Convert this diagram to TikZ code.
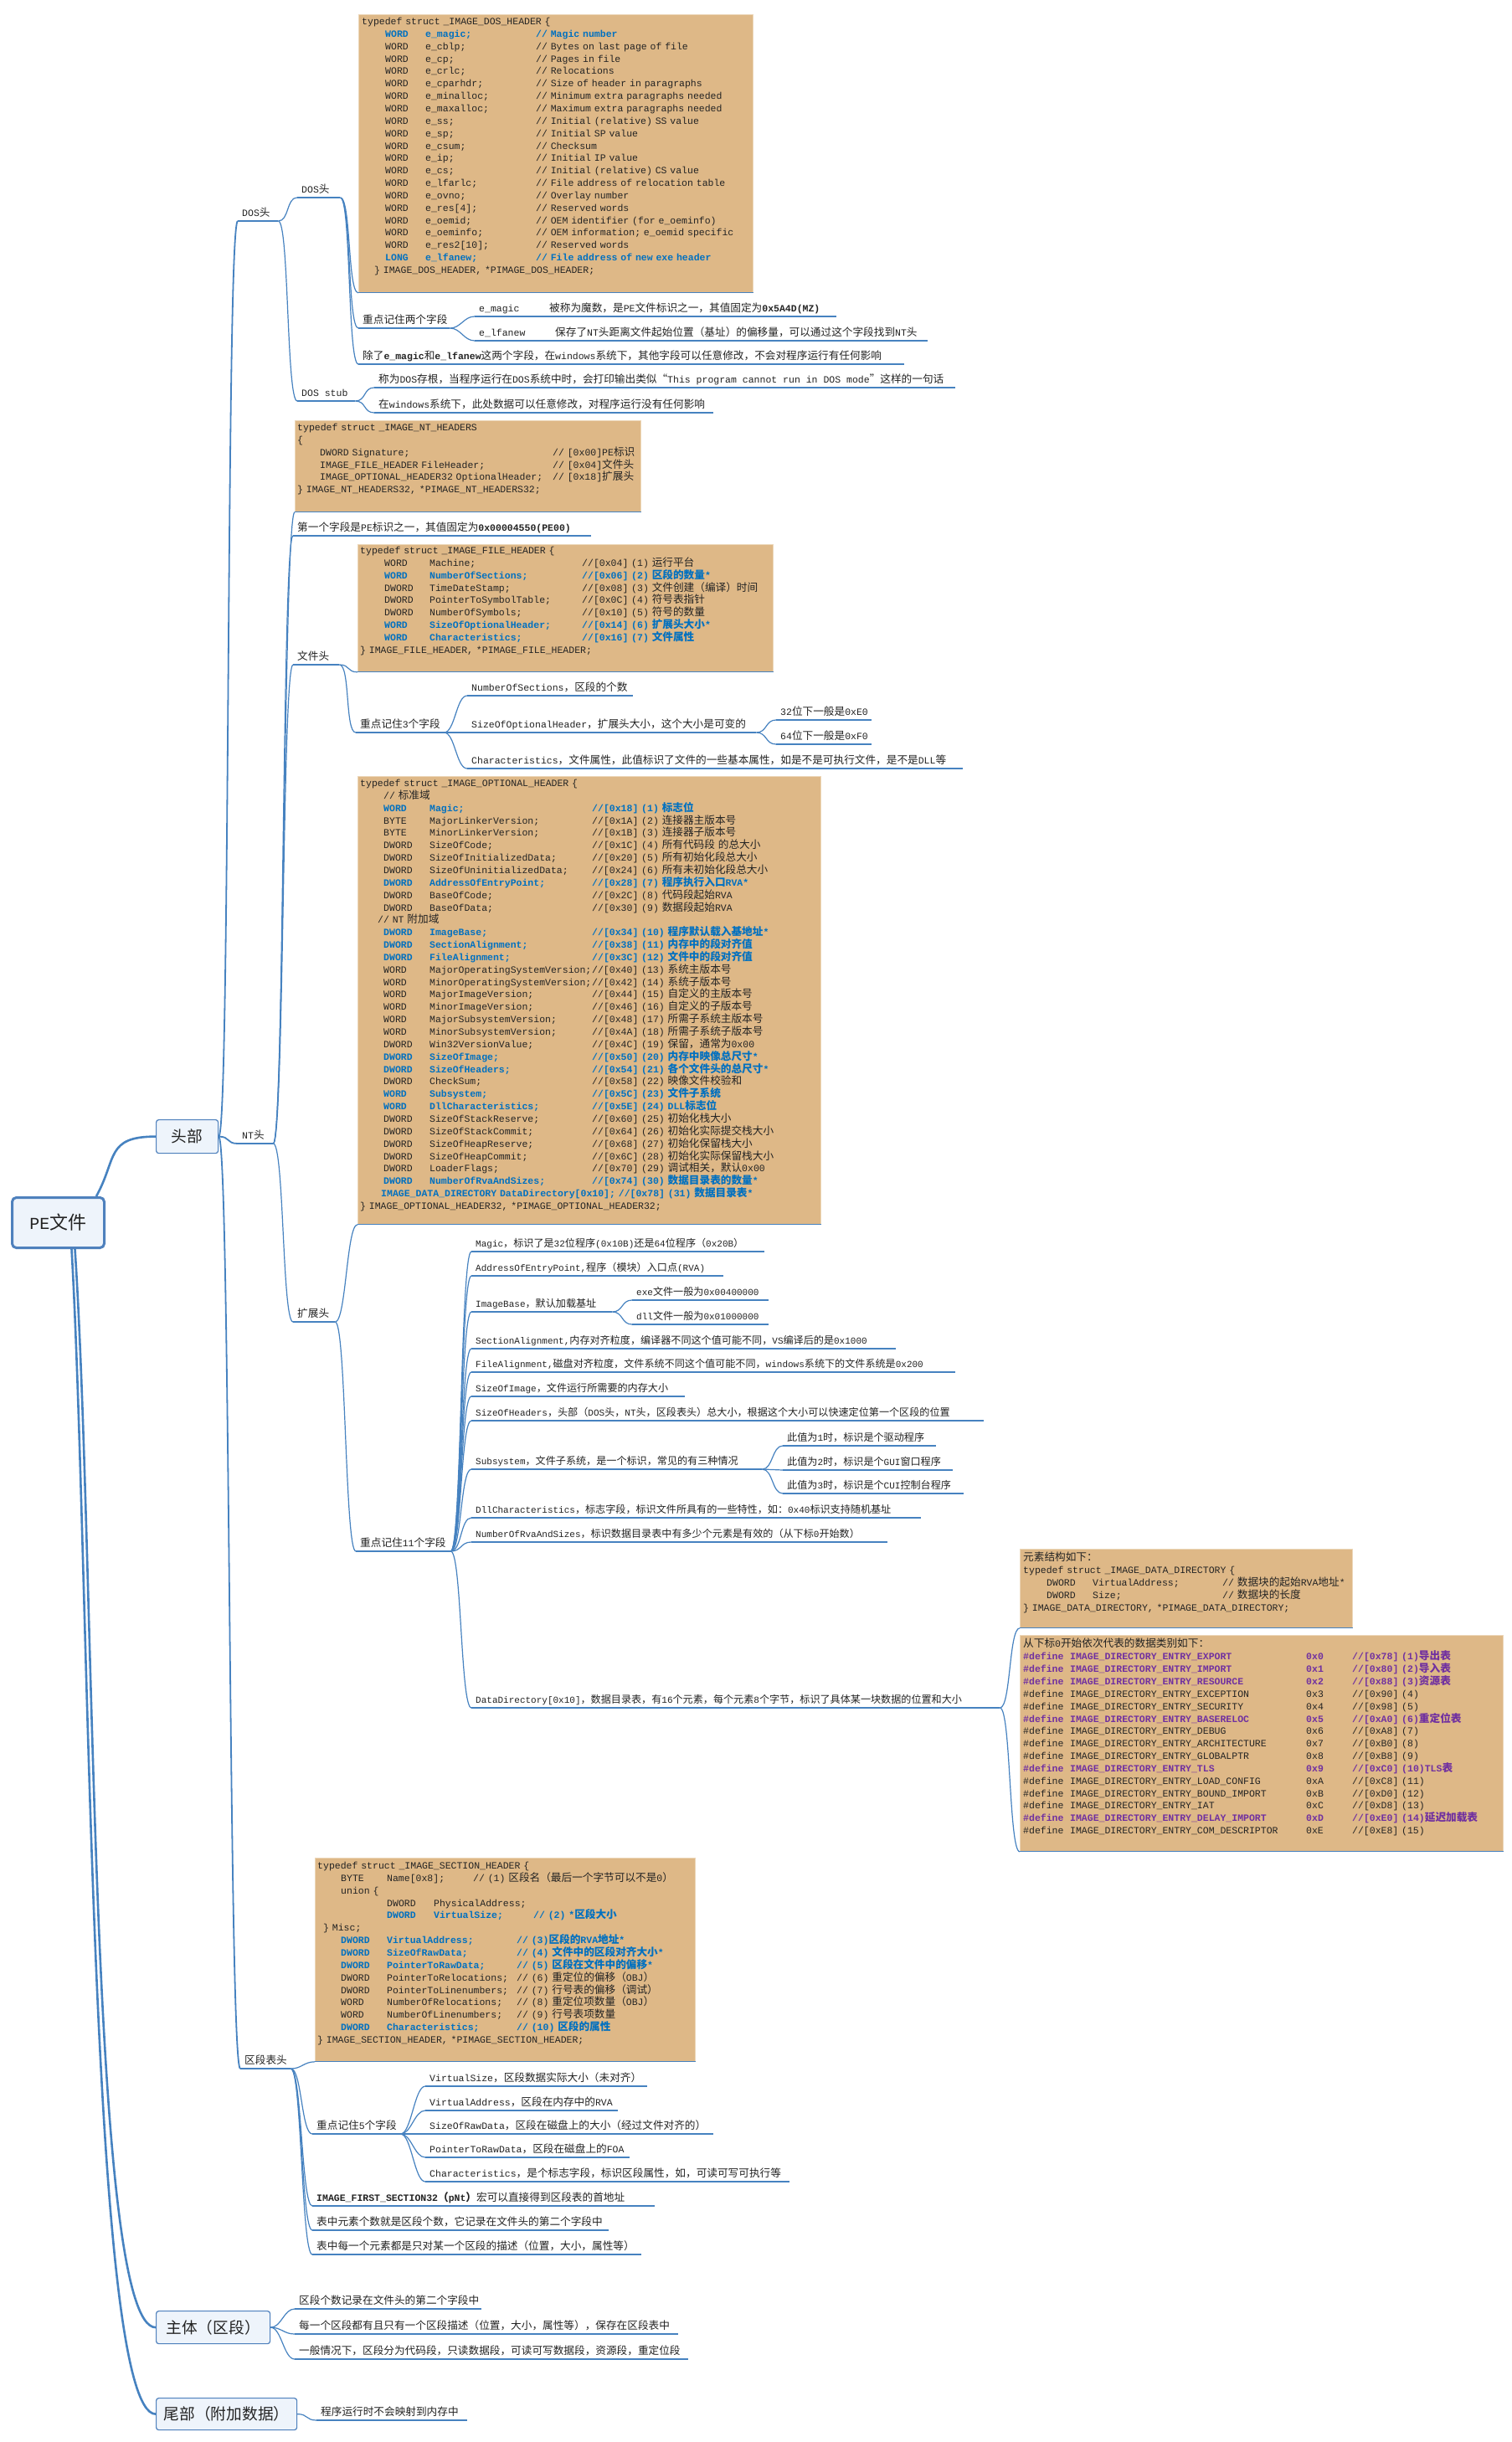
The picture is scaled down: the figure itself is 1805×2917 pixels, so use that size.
\documentclass[tikz,border=0pt]{standalone}
\usepackage{fontspec}
\setmainfont{Liberation Mono}
\newfontfamily\cjk[Scale=1.1]{Noto Sans CJK SC}
\XeTeXinterchartokenstate=1
\newXeTeXintercharclass\CJKcls
\newcount\cjkcnt
\newcommand\setcjkrange[2]{\cjkcnt=#1\relax\loop\XeTeXcharclass\cjkcnt=\CJKcls\relax\ifnum\cjkcnt<#2\relax\advance\cjkcnt by 1\relax\repeat}
\setcjkrange{"3000}{"303F}
\setcjkrange{"4E00}{"9FFF}
\setcjkrange{"FF00}{"FFEF}
\XeTeXcharclass"201C=\CJKcls
\XeTeXcharclass"201D=\CJKcls
\XeTeXinterchartoks 0 \CJKcls = {\begingroup\cjk}
\XeTeXinterchartoks 4095 \CJKcls = {\begingroup\cjk}
\XeTeXinterchartoks \CJKcls 0 = {\endgroup}
\XeTeXinterchartoks \CJKcls 4095 = {\endgroup}

\definecolor{lnblue}{RGB}{70,130,192}
\definecolor{codeblue}{RGB}{0,112,192}
\definecolor{codepurple}{RGB}{112,48,160}
\definecolor{boxtan}{RGB}{222,184,135}
\definecolor{boxedge}{RGB}{236,215,185}
\definecolor{mainfill}{RGB}{238,244,251}
\definecolor{mainline}{RGB}{79,129,189}
\definecolor{txt}{RGB}{35,35,35}

\newcommand\codefont{\fontsize{11.5pt}{14.85pt}\selectfont\lineskiplimit=-50pt\lineskip=0pt}
\newcommand\smallcode{\fontsize{11pt}{14pt}\selectfont}
\newcommand\bigfont{\fontsize{17pt}{20pt}\selectfont}
\newcommand\hugefont{\fontsize{20pt}{24pt}\selectfont}
\newlength\colA \newlength\colB \newlength\colC
\newcommand\fl[3]{\hspace*{\colA}\makebox[\colB][l]{#1}\makebox[\colC][l]{#2}#3}
\newcommand\dl[3]{\makebox[56pt][l]{\#define}\makebox[282pt][l]{#1}\makebox[55pt][l]{#2}#3}
\newcommand\hb[1]{{\bfseries\color{codeblue}#1}}
\newcommand\hp[1]{{\bfseries\color{codepurple}#1}}

\tikzset{
 codetxt/.style={anchor=north west, inner sep=0pt, text width=#1, align=left, font=\codefont, text=txt},
 tanbox/.style={anchor=north west, inner sep=0pt, fill=boxtan, draw=boxedge, line width=0.8pt},
 lblst/.style={anchor=south west, inner xsep=0pt, inner ysep=2pt, font=\codefont, text=txt},
 cn/.style={draw=lnblue, line width=1.2pt},
 cnb/.style={draw=lnblue, line width=1.8pt},
 cnm/.style={draw=lnblue, line width=2.6pt},
 mainbox/.style={anchor=north west, fill=mainfill, draw=mainline, line width=1.2pt, rounded corners=3pt, inner sep=0pt, font=\bigfont, text=txt},
}
\newcommand\lbl[6][]{%
 \node[lblst,#1] (#2) at (#3,#4) {\makebox[\dimexpr#5pt-#3pt\relax][l]{\hspace{5pt}\rule[-3pt]{0pt}{11pt}#6}};
 \draw[cn] (#2.south west) -- (#2.south east);}
\newcommand\conn[3][13]{\draw[cn] (#2) .. controls +(#1,0) and +(-#1,0) .. (#3);}

\begin{document}
\begin{tikzpicture}[x=1pt,y=-1pt]
\fill[white] (0,0) rectangle (1805,2917);
\useasboundingbox (0,0) rectangle (1805,2917);

% ---------- main boxes
\node[mainbox, minimum width=110pt, minimum height=60pt, line width=3pt, rounded corners=5pt, font=\hugefont] (pe) at (13,1429) {PE文件};
\node[mainbox, minimum width=74pt, minimum height=40pt] (head) at (186,1337) {头部};
\node[mainbox, minimum width=136pt, minimum height=39pt] (body) at (186,2760) {主体（区段）};
\node[mainbox, minimum width=168pt, minimum height=38pt] (tail) at (186,2864) {尾部（附加数据）};

\draw[cnm] ([xshift=-11pt]pe.north east) .. controls +(25,-45) and +(-60,0) .. (head.west);
\draw[cnm] ([xshift=20pt]pe.south) .. controls +(25,380) and +(-80,0) .. (body.west);
\draw[cnm] ([xshift=16pt]pe.south) .. controls +(22,380) and +(-80,0) .. (tail.west);

% ---------- DOS part
\lbl{dosA}{284}{264}{332}{DOS头}
\lbl{dosB}{355}{236}{406}{DOS头}
\lbl{stub}{355}{479}{424}{DOS stub}

\node[tanbox, minimum width=471pt, minimum height=332pt] (dosbox) at (428,17) {};
\node[codetxt=465pt] (dostxt) at (432,21) {\setlength\colA{28pt}\setlength\colB{48pt}\setlength\colC{132pt}%
typedef struct \_IMAGE\_DOS\_HEADER \{\\
\hb{\fl{WORD}{e\_magic;}{// Magic number}}\\
\fl{WORD}{e\_cblp;}{// Bytes on last page of file}\\
\fl{WORD}{e\_cp;}{// Pages in file}\\
\fl{WORD}{e\_crlc;}{// Relocations}\\
\fl{WORD}{e\_cparhdr;}{// Size of header in paragraphs}\\
\fl{WORD}{e\_minalloc;}{// Minimum extra paragraphs needed}\\
\fl{WORD}{e\_maxalloc;}{// Maximum extra paragraphs needed}\\
\fl{WORD}{e\_ss;}{// Initial (relative) SS value}\\
\fl{WORD}{e\_sp;}{// Initial SP value}\\
\fl{WORD}{e\_csum;}{// Checksum}\\
\fl{WORD}{e\_ip;}{// Initial IP value}\\
\fl{WORD}{e\_cs;}{// Initial (relative) CS value}\\
\fl{WORD}{e\_lfarlc;}{// File address of relocation table}\\
\fl{WORD}{e\_ovno;}{// Overlay number}\\
\fl{WORD}{e\_res[4];}{// Reserved words}\\
\fl{WORD}{e\_oemid;}{// OEM identifier (for e\_oeminfo)}\\
\fl{WORD}{e\_oeminfo;}{// OEM information; e\_oemid specific}\\
\fl{WORD}{e\_res2[10];}{// Reserved words}\\
\hb{\fl{LONG}{e\_lfanew;}{// File address of new exe header}}\\
\hspace*{15pt}\} IMAGE\_DOS\_HEADER, *PIMAGE\_DOS\_HEADER;};
\draw[cn] (dosbox.south west) -- (dosbox.south east);

\lbl{keytwo}{428}{392}{537}{重点记住两个字段}
\lbl{emagic}{567}{378}{999}{\makebox[84pt][l]{e\_magic}被称为魔数，是PE文件标识之一，其值固定为\textbf{0x5A4D(MZ)}}
\lbl{elfanew}{567}{407}{1108}{\makebox[91pt][l]{e\_lfanew}保存了NT头距离文件起始位置（基址）的偏移量，可以通过这个字段找到NT头}
\lbl{chule}{428}{435}{1080}{除了\textbf{e\_magic}和\textbf{e\_lfanew}这两个字段，在windows系统下，其他字段可以任意修改，不会对程序运行有任何影响}
\lbl{stubone}{447}{463}{1141}{称为DOS存根，当程序运行在DOS系统中时，会打印输出类似“This program cannot run in DOS mode”这样的一句话}
\lbl{stubtwo}{447}{493}{852}{在windows系统下，此处数据可以任意修改，对程序运行没有任何影响}

% ---------- NT part
\lbl{ntA}{284}{1366}{326}{NT头}
\node[tanbox, minimum width=413pt, minimum height=109pt] (ntbox) at (352,502) {};
\node[codetxt=408pt] (nttxt) at (355,506) {%
typedef struct \_IMAGE\_NT\_HEADERS\\
\{\\
\hspace*{27pt}\makebox[278pt][l]{DWORD Signature;}// [0x00]PE标识\\
\hspace*{27pt}\makebox[278pt][l]{IMAGE\_FILE\_HEADER FileHeader;}// [0x04]文件头\\
\hspace*{27pt}\makebox[278pt][l]{IMAGE\_OPTIONAL\_HEADER32 OptionalHeader;}// [0x18]扩展头\\
\} IMAGE\_NT\_HEADERS32, *PIMAGE\_NT\_HEADERS32;};
\draw[cn] (ntbox.south west) -- (ntbox.south east);
\lbl{firstf}{350}{640}{706}{第一个字段是PE标识之一，其值固定为\textbf{0x00004550(PE00)}}

\lbl{fileA}{350}{794}{405}{文件头}
\node[tanbox, minimum width=496pt, minimum height=152pt] (filebox) at (427,650) {};
\node[codetxt=490pt] (filetxt) at (430,653) {\setlength\colA{29pt}\setlength\colB{54pt}\setlength\colC{182pt}%
typedef struct \_IMAGE\_FILE\_HEADER \{\\
\fl{WORD}{Machine;}{//[0x04] (1) 运行平台}\\
\hb{\fl{WORD}{NumberOfSections;}{//[0x06] (2) 区段的数量*}}\\
\fl{DWORD}{TimeDateStamp;}{//[0x08] (3) 文件创建（编译）时间}\\
\fl{DWORD}{PointerToSymbolTable;}{//[0x0C] (4) 符号表指针}\\
\fl{DWORD}{NumberOfSymbols;}{//[0x10] (5) 符号的数量}\\
\hb{\fl{WORD}{SizeOfOptionalHeader;}{//[0x14] (6) 扩展头大小*}}\\
\hb{\fl{WORD}{Characteristics;}{//[0x16] (7) 文件属性}}\\
\} IMAGE\_FILE\_HEADER, *PIMAGE\_FILE\_HEADER;};
\draw[cn] (filebox.south west) -- (filebox.south east);
\lbl{keythree}{425}{875}{530}{重点记住3个字段}
\lbl{nos}{558}{831}{756}{NumberOfSections，区段的个数}
\lbl{sooh}{558}{875}{903}{SizeOfOptionalHeader，扩展头大小，这个大小是可变的}
\lbl{bthirtytwo}{927}{860}{1041}{32位下一般是0xE0}
\lbl{bsixtyfour}{927}{889}{1041}{64位下一般是0xF0}
\lbl{chr}{558}{918}{1150}{Characteristics，文件属性，此值标识了文件的一些基本属性，如是不是可执行文件，是不是DLL等}

\lbl{optA}{350}{1579}{400}{扩展头}
\node[tanbox, minimum width=553pt, minimum height=535pt] (optbox) at (427,927) {};
\node[codetxt=548pt] (opttxt) at (430,931) {\setlength\colA{28pt}\setlength\colB{55pt}\setlength\colC{194pt}%
typedef struct \_IMAGE\_OPTIONAL\_HEADER \{\\
\hspace*{28pt}// 标准域\\
\hb{\fl{WORD}{Magic;}{//[0x18] (1) 标志位}}\\
\fl{BYTE}{MajorLinkerVersion;}{//[0x1A] (2) 连接器主版本号}\\
\fl{BYTE}{MinorLinkerVersion;}{//[0x1B] (3) 连接器子版本号}\\
\fl{DWORD}{SizeOfCode;}{//[0x1C] (4) 所有代码段 的总大小}\\
\fl{DWORD}{SizeOfInitializedData;}{//[0x20] (5) 所有初始化段总大小}\\
\fl{DWORD}{SizeOfUninitializedData;}{//[0x24] (6) 所有未初始化段总大小}\\
\hb{\fl{DWORD}{AddressOfEntryPoint;}{//[0x28] (7) 程序执行入口RVA*}}\\
\fl{DWORD}{BaseOfCode;}{//[0x2C] (8) 代码段起始RVA}\\
\fl{DWORD}{BaseOfData;}{//[0x30] (9) 数据段起始RVA}\\
\hspace*{21pt}// NT 附加域\\
\hb{\fl{DWORD}{ImageBase;}{//[0x34] (10) 程序默认载入基地址*}}\\
\hb{\fl{DWORD}{SectionAlignment;}{//[0x38] (11) 内存中的段对齐值}}\\
\hb{\fl{DWORD}{FileAlignment;}{//[0x3C] (12) 文件中的段对齐值}}\\
\fl{WORD}{MajorOperatingSystemVersion;}{//[0x40] (13) 系统主版本号}\\
\fl{WORD}{MinorOperatingSystemVersion;}{//[0x42] (14) 系统子版本号}\\
\fl{WORD}{MajorImageVersion;}{//[0x44] (15) 自定义的主版本号}\\
\fl{WORD}{MinorImageVersion;}{//[0x46] (16) 自定义的子版本号}\\
\fl{WORD}{MajorSubsystemVersion;}{//[0x48] (17) 所需子系统主版本号}\\
\fl{WORD}{MinorSubsystemVersion;}{//[0x4A] (18) 所需子系统子版本号}\\
\fl{DWORD}{Win32VersionValue;}{//[0x4C] (19) 保留，通常为0x00}\\
\hb{\fl{DWORD}{SizeOfImage;}{//[0x50] (20) 内存中映像总尺寸*}}\\
\hb{\fl{DWORD}{SizeOfHeaders;}{//[0x54] (21) 各个文件头的总尺寸*}}\\
\fl{DWORD}{CheckSum;}{//[0x58] (22) 映像文件校验和}\\
\hb{\fl{WORD}{Subsystem;}{//[0x5C] (23) 文件子系统}}\\
\hb{\fl{WORD}{DllCharacteristics;}{//[0x5E] (24) DLL标志位}}\\
\fl{DWORD}{SizeOfStackReserve;}{//[0x60] (25) 初始化栈大小}\\
\fl{DWORD}{SizeOfStackCommit;}{//[0x64] (26) 初始化实际提交栈大小}\\
\fl{DWORD}{SizeOfHeapReserve;}{//[0x68] (27) 初始化保留栈大小}\\
\fl{DWORD}{SizeOfHeapCommit;}{//[0x6C] (28) 初始化实际保留栈大小}\\
\fl{DWORD}{LoaderFlags;}{//[0x70] (29) 调试相关，默认0x00}\\
\hb{\fl{DWORD}{NumberOfRvaAndSizes;}{//[0x74] (30) 数据目录表的数量*}}\\
\hb{\hspace*{25pt}IMAGE\_DATA\_DIRECTORY DataDirectory[0x10]; //[0x78] (31) 数据目录表*}\\
\} IMAGE\_OPTIONAL\_HEADER32, *PIMAGE\_OPTIONAL\_HEADER32;};
\draw[cn] (optbox.south west) -- (optbox.south east);

\lbl{keyeleven}{425}{1853}{538}{重点记住11个字段}
\lbl[font=\smallcode]{fa}{563}{1495}{913}{Magic，标识了是32位程序(0x10B)还是64位程序（0x20B）}
\lbl[font=\smallcode]{fb}{563}{1524}{864}{AddressOfEntryPoint,程序（模块）入口点(RVA)}
\lbl[font=\smallcode]{fc}{563}{1567}{731}{ImageBase，默认加载基址}
\lbl[font=\smallcode]{exe}{755}{1553}{918}{exe文件一般为0x00400000}
\lbl[font=\smallcode]{dll}{755}{1582}{918}{dll文件一般为0x01000000}
\lbl[font=\smallcode]{fd}{563}{1611}{1070}{SectionAlignment,内存对齐粒度，编译器不同这个值可能不同，VS编译后的是0x1000}
\lbl[font=\smallcode]{fe}{563}{1639}{1141}{FileAlignment,磁盘对齐粒度，文件系统不同这个值可能不同，windows系统下的文件系统是0x200}
\lbl[font=\smallcode]{ff}{563}{1668}{818}{SizeOfImage，文件运行所需要的内存大小}
\lbl[font=\smallcode]{fg}{563}{1697}{1175}{SizeOfHeaders，头部（DOS头，NT头，区段表头）总大小，根据这个大小可以快速定位第一个区段的位置}
\lbl[font=\smallcode]{fh}{563}{1755}{910}{Subsystem，文件子系统，是一个标识，常见的有三种情况}
\lbl[font=\smallcode]{sa}{935}{1727}{1118}{此值为1时，标识是个驱动程序}
\lbl[font=\smallcode]{sb}{935}{1756}{1138}{此值为2时，标识是个GUI窗口程序}
\lbl[font=\smallcode]{sc}{935}{1784}{1151}{此值为3时，标识是个CUI控制台程序}
\lbl[font=\smallcode]{fi}{563}{1813}{1100}{DllCharacteristics，标志字段，标识文件所具有的一些特性，如：0x40标识支持随机基址}
\lbl[font=\smallcode]{fj}{563}{1842}{1060}{NumberOfRvaAndSizes，标识数据目录表中有多少个元素是有效的（从下标0开始数）}
\lbl[font=\smallcode]{fk}{563}{2040}{1194}{DataDirectory[0x10]，数据目录表，有16个元素，每个元素8个字节，标识了具体某一块数据的位置和大小}

\node[tanbox, minimum width=397pt, minimum height=94pt] (ddbox) at (1218,1850) {};
\node[codetxt=392pt] (ddtxt) at (1222,1854) {\setlength\colA{28pt}\setlength\colB{55pt}\setlength\colC{155pt}%
元素结构如下：\\
typedef struct \_IMAGE\_DATA\_DIRECTORY \{\\
\fl{DWORD}{VirtualAddress;}{// 数据块的起始RVA地址*}\\
\fl{DWORD}{Size;}{// 数据块的长度}\\
\} IMAGE\_DATA\_DIRECTORY, *PIMAGE\_DATA\_DIRECTORY;};
\draw[cn] (ddbox.south west) -- (ddbox.south east);

\node[tanbox, minimum width=577pt, minimum height=258pt] (typesbox) at (1218,1953) {};
\node[codetxt=572pt] (typestxt) at (1222,1957) {%
从下标0开始依次代表的数据类别如下：\\
\hp{\dl{IMAGE\_DIRECTORY\_ENTRY\_EXPORT}{0x0}{//[0x78] (1)导出表}}\\
\hp{\dl{IMAGE\_DIRECTORY\_ENTRY\_IMPORT}{0x1}{//[0x80] (2)导入表}}\\
\hp{\dl{IMAGE\_DIRECTORY\_ENTRY\_RESOURCE}{0x2}{//[0x88] (3)资源表}}\\
\dl{IMAGE\_DIRECTORY\_ENTRY\_EXCEPTION}{0x3}{//[0x90] (4)}\\
\dl{IMAGE\_DIRECTORY\_ENTRY\_SECURITY}{0x4}{//[0x98] (5)}\\
\hp{\dl{IMAGE\_DIRECTORY\_ENTRY\_BASERELOC}{0x5}{//[0xA0] (6)重定位表}}\\
\dl{IMAGE\_DIRECTORY\_ENTRY\_DEBUG}{0x6}{//[0xA8] (7)}\\
\dl{IMAGE\_DIRECTORY\_ENTRY\_ARCHITECTURE}{0x7}{//[0xB0] (8)}\\
\dl{IMAGE\_DIRECTORY\_ENTRY\_GLOBALPTR}{0x8}{//[0xB8] (9)}\\
\hp{\dl{IMAGE\_DIRECTORY\_ENTRY\_TLS}{0x9}{//[0xC0] (10)TLS表}}\\
\dl{IMAGE\_DIRECTORY\_ENTRY\_LOAD\_CONFIG}{0xA}{//[0xC8] (11)}\\
\dl{IMAGE\_DIRECTORY\_ENTRY\_BOUND\_IMPORT}{0xB}{//[0xD0] (12)}\\
\dl{IMAGE\_DIRECTORY\_ENTRY\_IAT}{0xC}{//[0xD8] (13)}\\
\hp{\dl{IMAGE\_DIRECTORY\_ENTRY\_DELAY\_IMPORT}{0xD}{//[0xE0] (14)延迟加载表}}\\
\dl{IMAGE\_DIRECTORY\_ENTRY\_COM\_DESCRIPTOR}{0xE}{//[0xE8] (15)}};
\draw[cn] (typesbox.south west) -- (typesbox.south east);

% ---------- section header part
\lbl{secA}{287}{2471}{347}{区段表头}
\node[tanbox, minimum width=454pt, minimum height=243pt] (secbox) at (376,2219) {};
\node[codetxt=450pt] (sectxt) at (379,2224) {\setlength\colA{28pt}\setlength\colB{55pt}\setlength\colC{155pt}%
typedef struct \_IMAGE\_SECTION\_HEADER \{\\
\hspace*{28pt}\makebox[55pt][l]{BYTE}\makebox[103pt][l]{Name[0x8];}// (1) 区段名（最后一个字节可以不是0）\\
\hspace*{28pt}union \{\\
\hspace*{83pt}\makebox[56pt][l]{DWORD}PhysicalAddress;\\
\hb{\hspace*{83pt}\makebox[56pt][l]{DWORD}\makebox[119pt][l]{VirtualSize;}// (2) *区段大小}\\
\hspace*{7pt}\} Misc;\\
\hb{\fl{DWORD}{VirtualAddress;}{// (3)区段的RVA地址*}}\\
\hb{\fl{DWORD}{SizeOfRawData;}{// (4) 文件中的区段对齐大小*}}\\
\hb{\fl{DWORD}{PointerToRawData;}{// (5) 区段在文件中的偏移*}}\\
\fl{DWORD}{PointerToRelocations;}{// (6) 重定位的偏移（OBJ）}\\
\fl{DWORD}{PointerToLinenumbers;}{// (7) 行号表的偏移（调试）}\\
\fl{WORD}{NumberOfRelocations;}{// (8) 重定位项数量（OBJ）}\\
\fl{WORD}{NumberOfLinenumbers;}{// (9) 行号表项数量}\\
\hb{\fl{DWORD}{Characteristics;}{// (10) 区段的属性}}\\
\} IMAGE\_SECTION\_HEADER, *PIMAGE\_SECTION\_HEADER;};
\draw[cn] (secbox.south west) -- (secbox.south east);

\lbl{keyfive}{373}{2549}{478}{重点记住5个字段}
\lbl{va}{508}{2492}{773}{VirtualSize，区段数据实际大小（未对齐）}
\lbl{vb}{508}{2521}{738}{VirtualAddress，区段在内存中的RVA}
\lbl{vc}{508}{2549}{852}{SizeOfRawData，区段在磁盘上的大小（经过文件对齐的）}
\lbl{vd}{508}{2577}{752}{PointerToRawData，区段在磁盘上的FOA}
\lbl{ve}{508}{2606}{943}{Characteristics，是个标志字段，标识区段属性，如，可读可写可执行等}
\lbl{ifs}{373}{2635}{782}{\textbf{IMAGE\_FIRST\_SECTION32（pNt）}宏可以直接得到区段表的首地址}
\lbl{cnt}{373}{2664}{727}{表中元素个数就是区段个数，它记录在文件头的第二个字段中}
\lbl{each}{373}{2693}{766}{表中每一个元素都是只对某一个区段的描述（位置，大小，属性等）}

% ---------- body / tail
\lbl{ba}{352}{2758}{575}{区段个数记录在文件头的第二个字段中}
\lbl{bb}{352}{2788}{810}{每一个区段都有且只有一个区段描述（位置，大小，属性等），保存在区段表中}
\lbl{bc}{352}{2818}{822}{一般情况下，区段分为代码段，只读数据段，可读可写数据段，资源段，重定位段}
\lbl{ta}{378}{2891}{558}{程序运行时不会映射到内存中}

% ---------- connectors
\draw[cnb] (head.east) .. controls +(14,0) and +(-14,0) .. (dosA.south west);
\draw[cnb] (head.east) .. controls +(14,0) and +(-14,0) .. (ntA.south west);
\draw[cnb] (head.east) .. controls +(14,0) and +(-14,0) .. (secA.south west);
\conn{dosA.south east}{dosB.south west}
\conn{dosA.south east}{stub.south west}
\conn{dosB.south east}{dosbox.south west}
\conn{dosB.south east}{keytwo.south west}
\conn{dosB.south east}{chule.south west}
\conn{keytwo.south east}{emagic.south west}
\conn{keytwo.south east}{elfanew.south west}
\conn{stub.south east}{stubone.south west}
\conn{stub.south east}{stubtwo.south west}
\conn{ntA.south east}{ntbox.south west}
\conn{ntA.south east}{firstf.south west}
\conn{ntA.south east}{fileA.south west}
\conn{ntA.south east}{optA.south west}
\conn{fileA.south east}{filebox.south west}
\conn{fileA.south east}{keythree.south west}
\conn{keythree.south east}{nos.south west}
\conn{keythree.south east}{sooh.south west}
\conn{keythree.south east}{chr.south west}
\conn{sooh.south east}{bthirtytwo.south west}
\conn{sooh.south east}{bsixtyfour.south west}
\conn{optA.south east}{optbox.south west}
\conn{optA.south east}{keyeleven.south west}
\foreach \nm in {fa,fb,fc,fd,fe,ff,fg,fh,fi,fj,fk}{\conn{keyeleven.south east}{\nm.south west}}
\conn{fc.south east}{exe.south west}
\conn{fc.south east}{dll.south west}
\conn{fh.south east}{sa.south west}
\conn{fh.south east}{sb.south west}
\conn{fh.south east}{sc.south west}
\conn{fk.south east}{ddbox.south west}
\conn{fk.south east}{typesbox.south west}
\conn{secA.south east}{secbox.south west}
\conn{secA.south east}{keyfive.south west}
\conn{secA.south east}{ifs.south west}
\conn{secA.south east}{cnt.south west}
\conn{secA.south east}{each.south west}
\foreach \nm in {va,vb,vc,vd,ve}{\conn{keyfive.south east}{\nm.south west}}
\conn{body.east}{ba.south west}
\conn{body.east}{bb.south west}
\conn{body.east}{bc.south west}
\conn{tail.east}{ta.south west}
\end{tikzpicture}
\end{document}
